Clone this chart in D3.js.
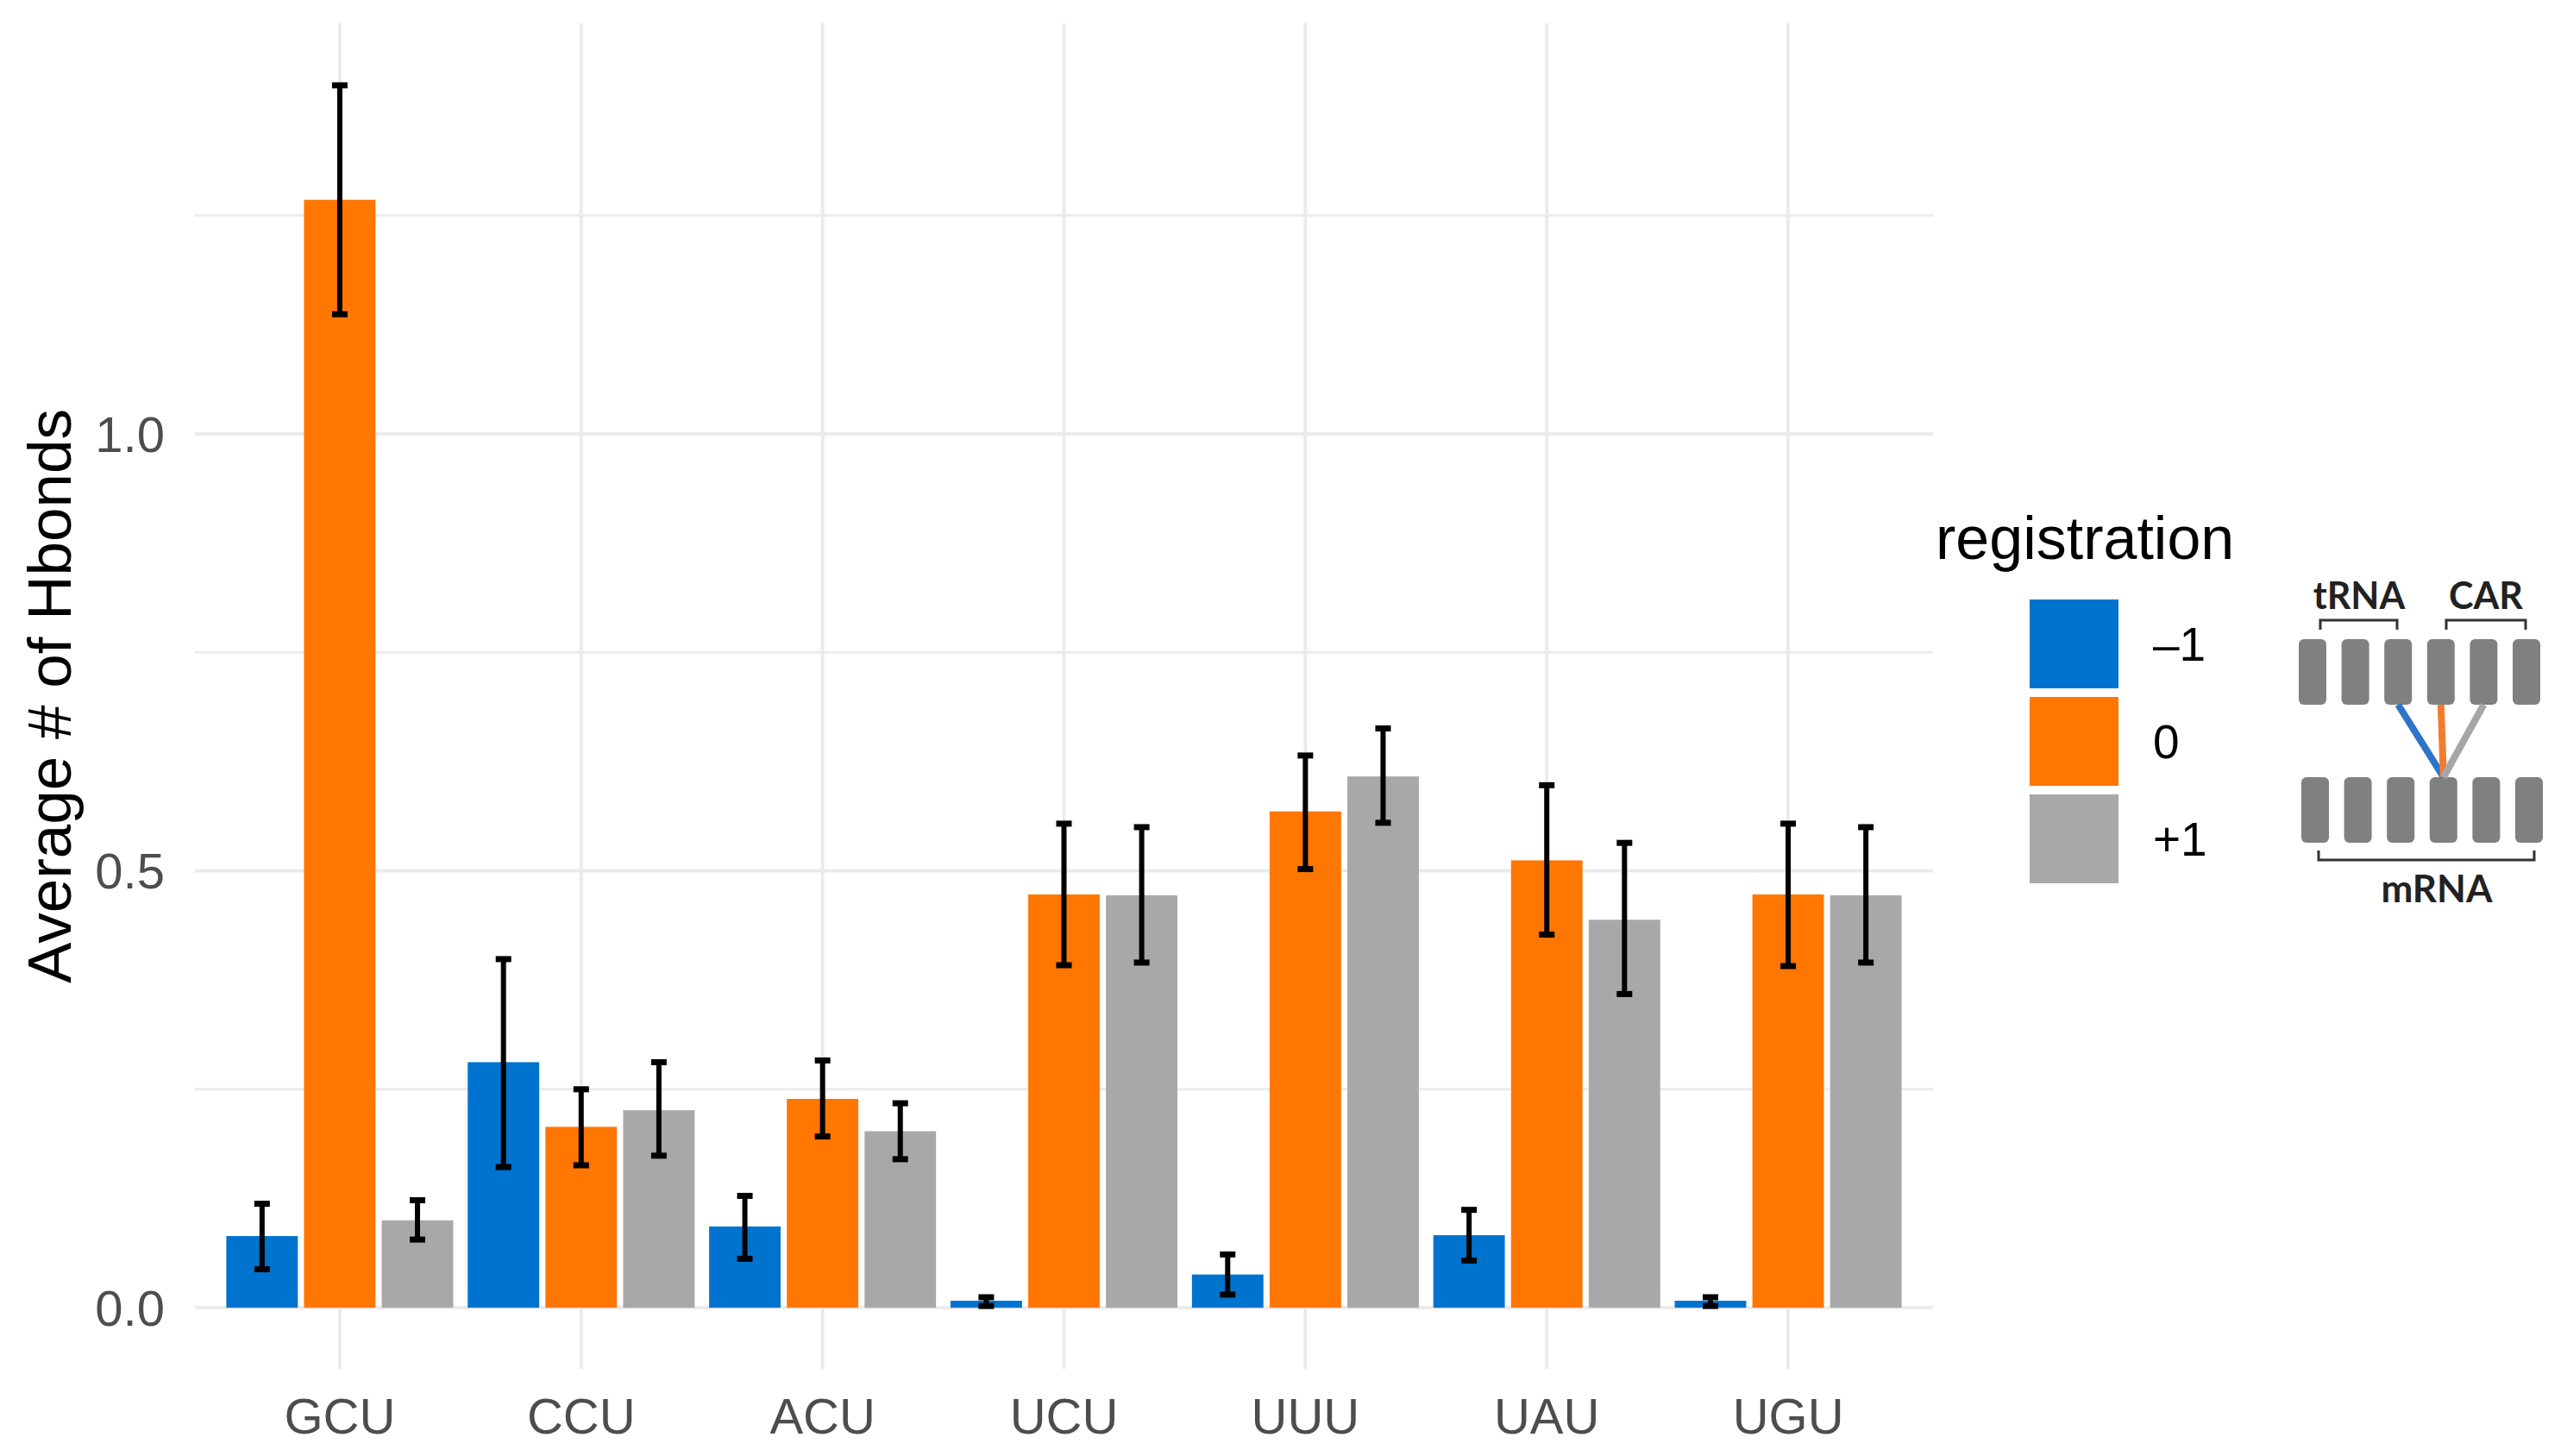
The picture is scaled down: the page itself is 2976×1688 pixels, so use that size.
<!DOCTYPE html>
<html>
<head>
<meta charset="utf-8">
<script src="https://cdn.jsdelivr.net/npm/d3@7"></script>
<style>
  body { margin: 0; background: #ffffff; }
  text { font-family: "Liberation Sans", Arial, sans-serif; }
</style>
</head>
<body>
<script>
// codons on the x axis
var categories = ["GCU", "CCU", "ACU", "UCU", "UUU", "UAU", "UGU"];
var registrations = ["-1", "0", "+1"];
var colors = ["#0073CF", "#FF7600", "#A8A8A8"];

// mean number of Hbonds per registration
var meanMinus1 = [0.082, 0.281, 0.093, 0.008, 0.038, 0.083, 0.008];
var meanZero   = [1.268, 0.207, 0.239, 0.473, 0.568, 0.512, 0.473];
var meanPlus1  = [0.100, 0.226, 0.202, 0.472, 0.608, 0.444, 0.472];

// error bar bounds
var lowMinus1  = [0.044, 0.161, 0.056, 0.002, 0.015, 0.054, 0.002];
var highMinus1 = [0.119, 0.399, 0.128, 0.012, 0.061, 0.112, 0.012];
var lowZero    = [1.137, 0.163, 0.196, 0.392, 0.502, 0.427, 0.391];
var highZero   = [1.399, 0.250, 0.283, 0.554, 0.632, 0.598, 0.554];
var lowPlus1   = [0.078, 0.174, 0.170, 0.395, 0.555, 0.359, 0.395];
var highPlus1  = [0.123, 0.281, 0.234, 0.550, 0.663, 0.532, 0.550];

var yTicks = [0, 0.5, 1.0];
var yMinor = [0.25, 0.75, 1.25];

var means = [meanMinus1, meanZero, meanPlus1];
var lows = [lowMinus1, lowZero, lowPlus1];
var highs = [highMinus1, highZero, highPlus1];

var width = 2976;
var height = 1688;

var svg = d3.select("body").append("svg")
	.attr("width", width)
	.attr("height", height);

svg.append("rect").attr("width", width).attr("height", height).attr("fill", "#ffffff");

var panelLeft = 226, panelRight = 2241, panelTop = 27, panelBottom = 1587;

var x = d3.scalePoint()
	.domain(categories)
	.range([panelLeft, panelRight])
	.padding(0.6);

var xSub = d3.scaleBand()
	.domain(registrations)
	.range([-x.step() * 0.47, x.step() * 0.47])
	.paddingInner(0.08);

var y = d3.scaleLinear()
	.domain([-0.07, 1.47])
	.range([panelBottom, panelTop]);

// grid
var grid = svg.append("g");
grid.selectAll(".minor")
	.data(yMinor)
	.enter().append("line")
	.attr("x1", panelLeft).attr("x2", panelRight)
	.attr("y1", function(d) { return y(d); })
	.attr("y2", function(d) { return y(d); })
	.attr("stroke", "#EBEBEB")
	.attr("stroke-width", 3);
grid.selectAll(".major")
	.data(yTicks)
	.enter().append("line")
	.attr("x1", panelLeft).attr("x2", panelRight)
	.attr("y1", function(d) { return y(d); })
	.attr("y2", function(d) { return y(d); })
	.attr("stroke", "#EBEBEB")
	.attr("stroke-width", 4);
grid.selectAll(".vert")
	.data(categories)
	.enter().append("line")
	.attr("x1", function(d) { return x(d); })
	.attr("x2", function(d) { return x(d); })
	.attr("y1", panelTop).attr("y2", panelBottom)
	.attr("stroke", "#EBEBEB")
	.attr("stroke-width", 4);

// flatten into bar records
var bars = [];
categories.forEach(function(c, i) {
	registrations.forEach(function(r, j) {
		bars.push({cat: c, reg: r, j: j, v: means[j][i], lo: lows[j][i], hi: highs[j][i]});
	});
});

svg.selectAll("rect.bar")
	.data(bars)
	.enter()
	.append("rect")
	.attr("class", "bar")
	.attr("x", function(d) { return x(d.cat) + xSub(d.reg); })
	.attr("width", xSub.bandwidth())
	.attr("y", function(d) { return y(d.v); })
	.attr("height", function(d) { return y(0) - y(d.v); })
	.attr("fill", function(d) { return colors[d.j]; });

// error bars
var capW = 9;
function midX(d) { return x(d.cat) + xSub(d.reg) + xSub.bandwidth() / 2; }
var eb = svg.selectAll("g.err")
	.data(bars)
	.enter().append("g")
	.attr("stroke", "#000");
eb.append("line")
	.attr("stroke-width", 6)
	.attr("x1", midX)
	.attr("x2", midX)
	.attr("y1", function(d) { return y(d.lo); })
	.attr("y2", function(d) { return y(d.hi); });
eb.selectAll("line.cap")
	.data(function(d) { return [{d: d, v: d.lo}, {d: d, v: d.hi}]; })
	.enter().append("line")
	.attr("stroke-width", 7)
	.attr("x1", function(e) { return midX(e.d) - capW; })
	.attr("x2", function(e) { return midX(e.d) + capW; })
	.attr("y1", function(e) { return y(e.v); })
	.attr("y2", function(e) { return y(e.v); });

// axes labels
svg.selectAll("text.ytick")
	.data(yTicks)
	.enter().append("text")
	.text(function(d) { return d3.format(".1f")(d); })
	.attr("x", 191)
	.attr("y", function(d) { return y(d); })
	.attr("dy", "0.36em")
	.attr("text-anchor", "end")
	.attr("fill", "#4D4D4D")
	.attr("font-size", "58px");

svg.selectAll("text.xtick")
	.data(categories)
	.enter().append("text")
	.text(function(d) { return d; })
	.attr("x", function(d) { return x(d); })
	.attr("y", 1662)
	.attr("text-anchor", "middle")
	.attr("fill", "#4D4D4D")
	.attr("font-size", "58px");

svg.append("text")
	.text("Average # of Hbonds")
	.attr("transform", "translate(82," + 807 + ") rotate(-90)")
	.attr("text-anchor", "middle")
	.attr("fill", "#000")
	.attr("font-size", "71px");

// legend
svg.append("text")
	.text("registration")
	.attr("x", 2244)
	.attr("y", 648)
	.attr("fill", "#000")
	.attr("font-size", "70px");

var key = 103, pitch = 113;
var lg = svg.selectAll("g.leg")
	.data(registrations)
	.enter().append("g")
	.attr("transform", function(d, i) { return "translate(2353," + (695 + i * pitch) + ")"; });
lg.append("rect")
	.attr("width", key).attr("height", key)
	.attr("fill", function(d, i) { return colors[i]; });
lg.append("text")
	.text(function(d) { return d.replace("-", "\u2013"); })
	.attr("x", 143)
	.attr("y", key / 2)
	.attr("dy", "0.36em")
	.attr("fill", "#000")
	.attr("font-size", "55px");

// registration schematic
var dg = svg.append("g");
var boxW = 32, boxH = 76, boxPitch = 49.6;
d3.range(6).forEach(function(i) {
	dg.append("rect")
		.attr("x", 2665 + i * boxPitch).attr("y", 741)
		.attr("width", boxW).attr("height", boxH)
		.attr("rx", 6).attr("fill", "#808080");
	dg.append("rect")
		.attr("x", 2668 + i * boxPitch).attr("y", 901)
		.attr("width", boxW).attr("height", boxH)
		.attr("rx", 6).attr("fill", "#808080");
});
var target = 2668 + 3 * boxPitch + boxW / 2;
var linkColors = ["#2E74C9", "#F47B2E", "#A6A6A6"];
[2, 3, 4].forEach(function(k, i) {
	dg.append("line")
		.attr("x1", 2665 + k * boxPitch + boxW / 2).attr("y1", 817)
		.attr("x2", target).attr("y2", 901)
		.attr("stroke", linkColors[i])
		.attr("stroke-width", 8);
});
function bracket(x1, x2, yb, yt) {
	dg.append("path")
		.attr("d", "M" + x1 + "," + yb + "L" + x1 + "," + yt + "L" + x2 + "," + yt + "L" + x2 + "," + yb)
		.attr("fill", "none")
		.attr("stroke", "#333")
		.attr("stroke-width", 3);
}
bracket(2690, 2779, 730, 719);
bracket(2836, 2928, 730, 719);
bracket(2688, 2938, 986, 997);
var labelFont = "Lato, 'Open Sans', sans-serif";
dg.append("text").text("tRNA").attr("x", 2735).attr("y", 706)
	.attr("text-anchor", "middle").attr("font-size", "43px").attr("fill", "#222")
	.attr("font-weight", "bold").style("font-family", labelFont);
dg.append("text").text("CAR").attr("x", 2882).attr("y", 706)
	.attr("text-anchor", "middle").attr("font-size", "43px").attr("fill", "#222")
	.attr("font-weight", "bold").style("font-family", labelFont);
dg.append("text").text("mRNA").attr("x", 2825).attr("y", 1046)
	.attr("text-anchor", "middle").attr("font-size", "44px").attr("fill", "#222")
	.attr("font-weight", "bold").style("font-family", labelFont);
</script>
</body>
</html>
